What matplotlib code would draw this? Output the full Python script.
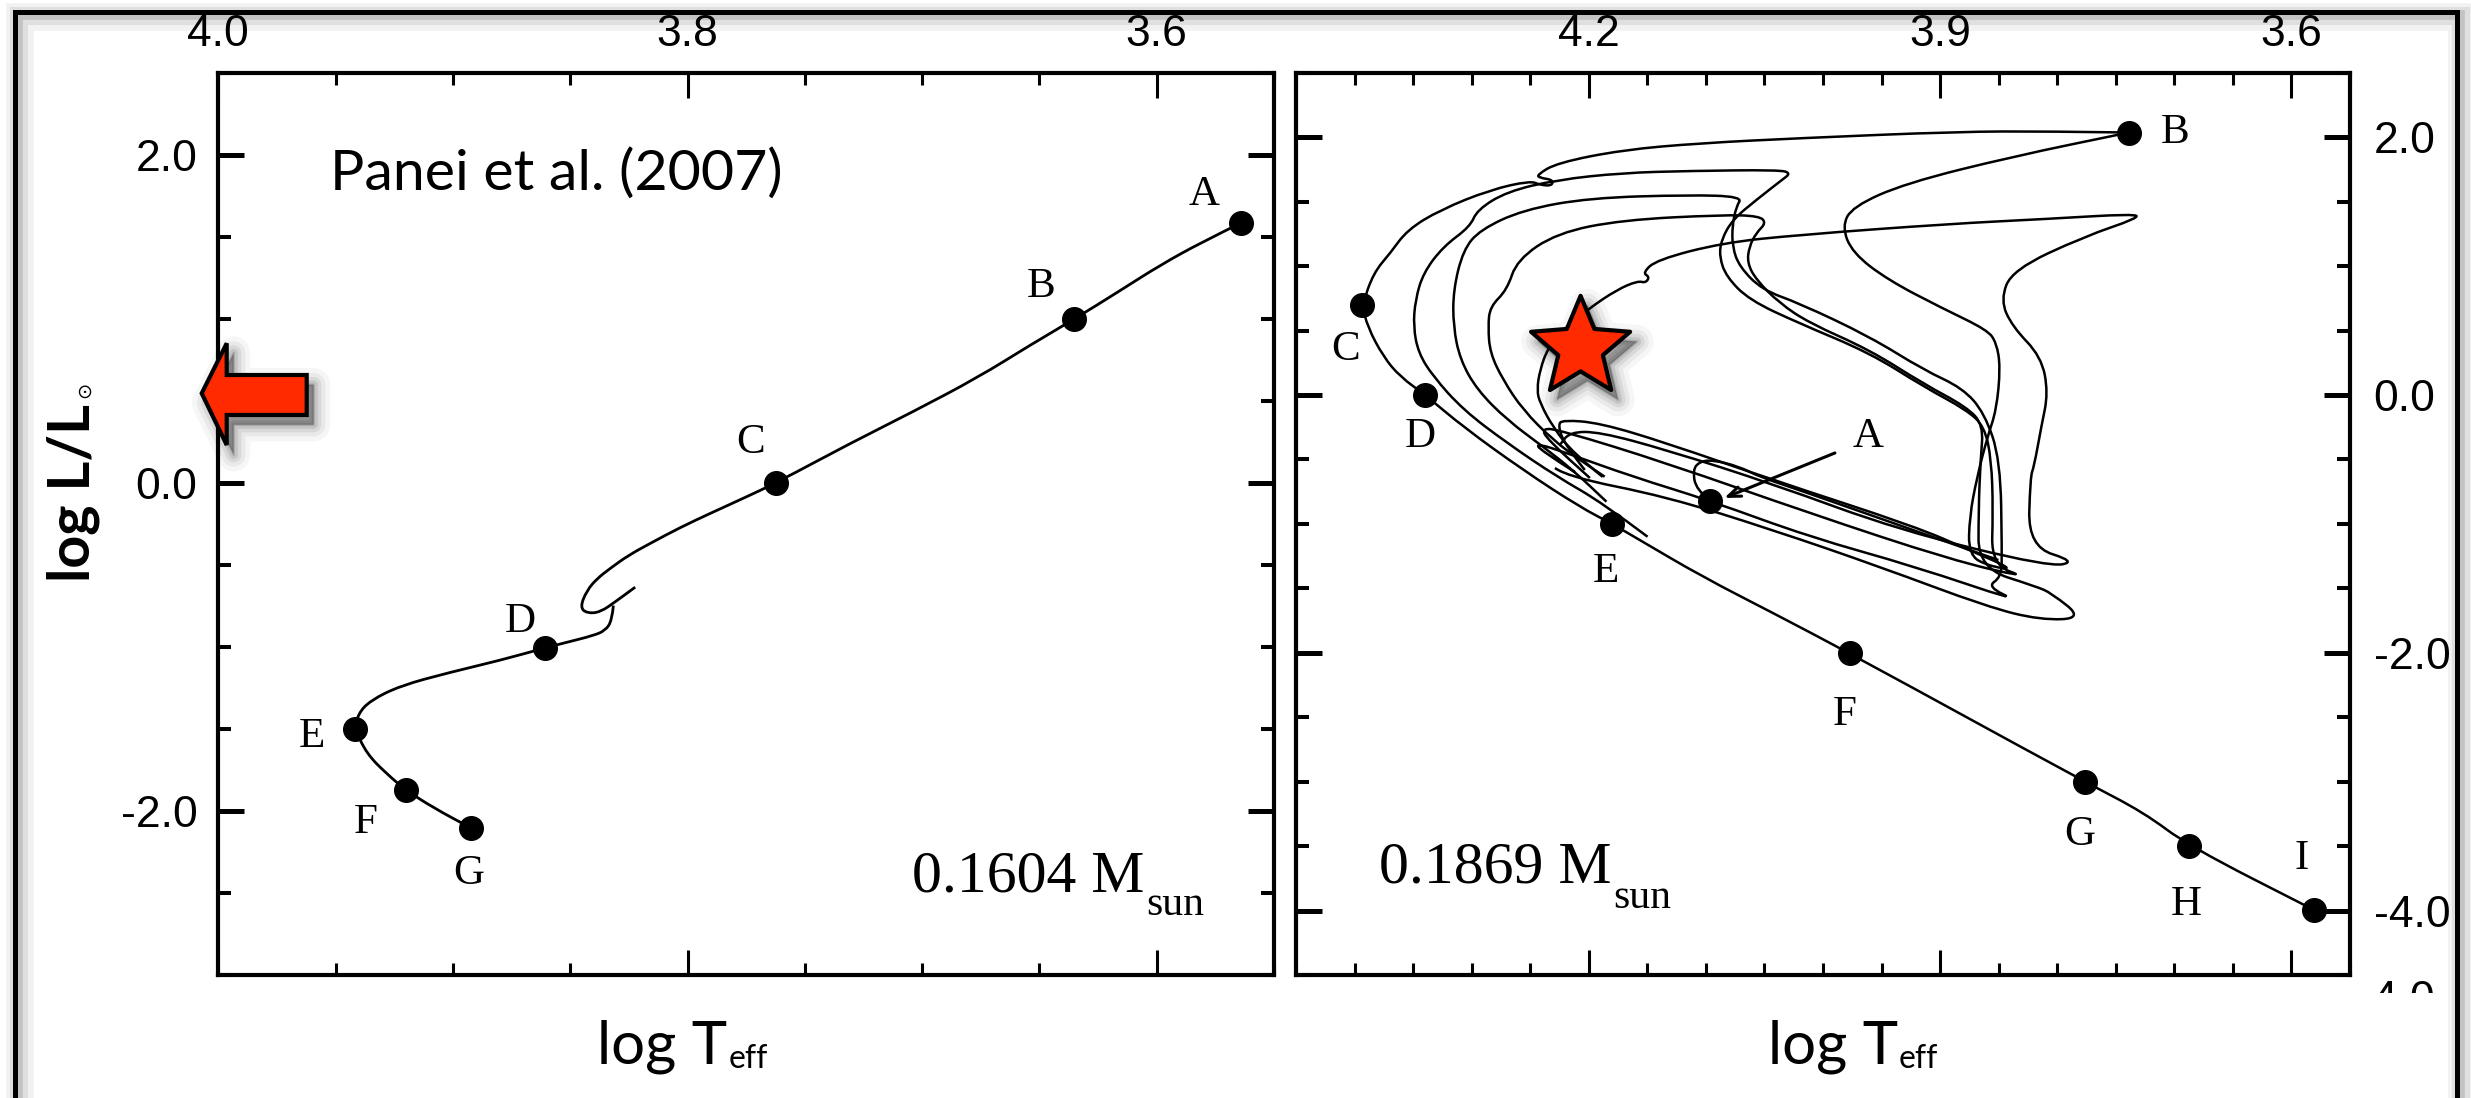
import numpy as np
import matplotlib
matplotlib.use("Agg")
import matplotlib.pyplot as plt
import matplotlib.patheffects as pe
from matplotlib.ticker import MultipleLocator, FormatStrFormatter
from matplotlib.path import Path
from matplotlib.patches import Polygon, Rectangle, PathPatch
from matplotlib.transforms import Bbox

plt.rcParams['font.family'] = 'Liberation Sans'
plt.rcParams['axes.unicode_minus'] = False

# ---------------- left panel: 0.1604 Msun (Panei et al. 2007) ----------------
left_up_t = [3.5639, 3.5805, 3.5984, 3.6159, 3.6351, 3.6539, 3.6760, 3.7042, 3.7306, 3.7622,
             3.7754, 3.7903, 3.8031, 3.8159, 3.8253, 3.8330, 3.8385, 3.8429, 3.8458, 3.8429,
             3.8372, 3.8301, 3.8223]
left_up_l = [1.585, 1.469, 1.328, 1.169, 0.998, 0.840, 0.644, 0.431, 0.241, 0.000,
             -0.089, -0.186, -0.272, -0.369, -0.443, -0.522, -0.583, -0.656, -0.758, -0.795,
             -0.789, -0.718, -0.636]
left_down_t = [3.8316, 3.8322, 3.8351, 3.8402, 3.8514, 3.8607, 3.8799, 3.9012, 3.9225,
               3.9353, 3.9404, 3.9417, 3.9367, 3.9282, 3.9201, 3.9084, 3.8924]
left_down_l = [-0.748, -0.840, -0.901, -0.931, -0.972, -1.006, -1.082, -1.155, -1.237,
               -1.328, -1.408, -1.501, -1.652, -1.774, -1.872, -1.980, -2.103]

left_pts = ['A', 'B', 'C', 'D', 'E', 'F', 'G']
left_pts_t = [3.5639, 3.6351, 3.7622, 3.8607, 3.9417, 3.9201, 3.8924]
left_pts_l = [1.585, 0.998, 0.000, -1.006, -1.501, -1.872, -2.103]
left_lab_t = [3.5797, 3.6492, 3.7733, 3.8713, 3.9602, 3.9371, 3.8934]
left_lab_l = [1.693, 1.135, 0.181, -0.911, -1.609, -2.133, -2.446]

# ---------------- right panel: 0.1869 Msun ----------------
cool_t = [3.7387, 3.8077, 3.8843, 4.0204, 4.1055, 4.1711, 4.2272, 4.2443, 4.2417, 4.2306,
          4.2315, 4.2417, 4.2502, 4.2843, 4.3268, 4.3549, 4.3694, 4.3838, 4.3934, 4.3889,
          4.3753, 4.3609, 4.3396, 4.3072, 4.2562, 4.2077, 4.1798, 4.1566, 4.1030, 4.0426,
          3.9770, 3.7762, 3.7260, 3.6877, 3.5804]
cool_l = [2.036, 2.045, 2.043, 1.992, 1.953, 1.901, 1.800, 1.707, 1.684, 1.669,
          1.622, 1.630, 1.661, 1.591, 1.436, 1.281, 1.102, 0.947, 0.698, 0.528,
          0.295, 0.140, 0.000, -0.248, -0.582, -0.869, -1.001, -1.125, -1.410, -1.692,
          -2.005, -3.003, -3.239, -3.500, -3.997]

rise_t = [4.2034, 4.2204, 4.2264, 4.2221, 4.1906, 4.1336, 4.0426, 3.9209, 3.8752, 3.8360,
          3.8587, 3.8757, 3.8749, 3.8684, 3.8596, 3.8519, 3.8485, 3.8519, 3.8596, 3.8987,
          3.9447, 3.9748, 3.9838, 3.9748, 3.9294, 3.8383, 3.7387]
rise_l = [-0.582, -0.388, -0.233, -0.194, -0.217, -0.373, -0.660, -1.022, -1.203, -1.358,
          -1.327, -1.242, -0.944, -0.634, -0.326, -0.116, 0.217, 0.404, 0.504, 0.675,
          0.893, 1.102, 1.306, 1.461, 1.643, 1.849, 2.036]

loop2_t = [4.1498, 4.1881, 4.2272, 4.2698, 4.3072, 4.3328, 4.3455, 4.3498, 4.3481, 4.3413,
           4.3243, 4.3013, 4.2953, 4.2698, 4.2272, 4.1711, 4.1140, 4.0374, 4.0275, 4.0349,
           4.0570, 4.0774, 4.0868, 4.0885, 4.0826, 4.0630, 4.0204, 3.9600, 3.9140, 3.8774,
           3.8621, 3.8562, 3.8548, 3.8562, 3.8247, 3.8902, 4.0119, 4.1336, 4.2247, 4.2403,
           4.2349, 4.1991]
loop2_l = [-1.100, -0.838, -0.634, -0.373, -0.116, 0.142, 0.326, 0.530, 0.737, 0.947,
           1.151, 1.306, 1.436, 1.578, 1.669, 1.723, 1.738, 1.746, 1.721, 1.669,
           1.513, 1.358, 1.203, 1.073, 0.918, 0.737, 0.556, 0.326, 0.064, -0.116,
           -0.246, -0.504, -0.893, -1.319, -1.420, -1.281, -0.916, -0.528, -0.272, -0.258,
           -0.349, -0.644]

loop3_t = [4.2119, 4.2417, 4.2445, 4.2190, 4.1626, 4.0964, 4.0119, 3.9209, 3.8326, 3.8599,
           3.8477, 3.8472, 3.8485, 3.8621, 3.8809, 3.9140, 3.9600, 4.0204, 4.0519, 4.0715,
           4.0774, 4.0774, 4.0740, 4.0689, 4.1140, 4.1991, 4.2562, 4.2928, 4.3072, 4.3157,
           4.3157, 4.3098, 4.2953, 4.2698, 4.2391, 4.2136, 4.1849]
loop3_l = [-0.598, -0.427, -0.375, -0.450, -0.634, -0.820, -1.100, -1.333, -1.604, -1.488,
           -1.412, -1.226, -0.504, -0.140, 0.054, 0.194, 0.452, 0.712, 0.815, 0.996,
           1.151, 1.319, 1.461, 1.539, 1.552, 1.529, 1.436, 1.281, 1.125, 0.815,
           0.530, 0.272, 0.039, -0.194, -0.401, -0.582, -0.828]

loop4_t = [4.2289, 4.2187, 4.1336, 4.0426, 3.9515, 3.8599, 3.8145, 3.7779, 3.8051, 3.8174,
           3.8672, 3.8672, 3.8655, 3.8630, 3.8774, 3.9140, 3.9600, 4.0119, 4.0374, 4.0570,
           4.0647, 4.0630, 4.0570, 4.0485, 4.0545, 4.0860, 4.1711, 4.2272, 4.2613, 4.2698,
           4.2843, 4.2860, 4.2843, 4.2732, 4.2562, 4.2306, 4.2077, 4.1864]
loop4_l = [-0.567, -0.634, -0.789, -1.048, -1.333, -1.643, -1.746, -1.733, -1.537, -1.488,
           -1.343, -0.893, -0.504, -0.233, -0.093, 0.085, 0.349, 0.559, 0.714, 0.893,
           1.024, 1.151, 1.257, 1.335, 1.389, 1.397, 1.358, 1.257, 1.048, 0.815,
           0.685, 0.530, 0.326, 0.116, -0.116, -0.349, -0.504, -0.634]

loop5_t = [4.1881, 4.2136, 4.2306, 4.2417, 4.2443, 4.2417, 4.2349, 4.2204, 4.1991, 4.1762,
           4.1583, 4.1515, 4.1481, 4.1540, 4.1421, 4.0860, 4.0204, 3.8928, 3.8077, 3.7347,
           3.7302, 3.7770, 3.8383, 3.8485, 3.8383, 3.8136, 3.8077, 3.8136, 3.8198, 3.8230,
           3.8247, 3.7833, 3.8077, 3.9353, 4.0426, 4.1336, 4.1906, 4.2162, 4.2247]
loop5_l = [-0.636, -0.450, -0.248, -0.062, 0.039, 0.194, 0.365, 0.520, 0.675, 0.815,
           0.885, 0.869, 0.916, 0.947, 1.048, 1.180, 1.242, 1.327, 1.366, 1.405,
           1.374, 1.229, 0.970, 0.737, 0.530, 0.297, 0.016, -0.246, -0.556, -0.634,
           -1.177, -1.294, -1.333, -1.048, -0.691, -0.427, -0.287, -0.287, -0.388]

aloop_t = [4.0964, 4.1083, 4.1112, 4.1055, 4.0942, 4.0715, 4.0545, 4.0204, 3.9353, 3.8502]
aloop_l = [-0.820, -0.737, -0.582, -0.518, -0.504, -0.556, -0.634, -0.737, -1.009, -1.281]

right_pts = ['A', 'B', 'C', 'D', 'E', 'F', 'G', 'H', 'I']
right_pts_t = [4.0964, 3.7387, 4.3934, 4.3396, 4.1798, 3.9770, 3.7762, 3.6877, 3.5804]
right_pts_l = [-0.820, 2.036, 0.698, 0.000, -1.001, -2.005, -3.003, -3.500, -3.997]
right_lab_t = [3.9618, 3.6997, 4.4077, 4.3438, 4.1852, 3.9813, 3.7804, 3.6896, 3.5915]
right_lab_l = [-0.401, 1.953, 0.272, -0.401, -1.449, -2.561, -3.492, -4.036, -3.680]
arrow_a_from = (3.9898, -0.450)
arrow_a_to = (4.0843, -0.799)

star_t, star_l = 4.207, 0.365

RED = '#ff2a00'
W, H = 2471, 1098
fig = plt.figure(figsize=(W / 100, H / 100), dpi=100)


def fx(px):
    return px / W


def fy(py):
    return 1 - py / H


ax1 = fig.add_axes([fx(218.3), fy(975), (1274 - 218.3) / W, (975 - 72.7) / H])
ax2 = fig.add_axes([fx(1296), fy(975), (2350 - 1296) / W, (975 - 72.7) / H])
ax1.set_xlim(4.0, 3.55)
ax1.set_ylim(-3.0, 2.5)
ax2.set_xlim(4.45, 3.55)
ax2.set_ylim(-4.5, 2.5)


def style(ax, xmaj, side):
    for s in ax.spines.values():
        s.set_linewidth(3.0)
    ax.xaxis.set_major_locator(MultipleLocator(xmaj))
    ax.xaxis.set_minor_locator(MultipleLocator(0.05))
    ax.yaxis.set_major_locator(MultipleLocator(2.0))
    ax.yaxis.set_minor_locator(MultipleLocator(0.5))
    ax.xaxis.set_major_formatter(FormatStrFormatter('%.1f'))
    ax.yaxis.set_major_formatter(FormatStrFormatter('%.1f'))
    ax.tick_params(axis='x', which='both', direction='in', top=True, bottom=True,
                   labeltop=True, labelbottom=False, pad=13, labelsize=32)
    ax.tick_params(axis='x', which='major', length=18, width=2.2)
    ax.tick_params(axis='x', which='minor', length=8.5, width=2.2)
    ax.tick_params(axis='y', which='both', direction='in', left=True, right=True,
                   labelleft=(side == 'left'), labelright=(side == 'right'),
                   pad=15 if side == 'left' else 17, labelsize=32)
    ax.tick_params(axis='y', which='major', length=19, width=3.6)
    ax.tick_params(axis='y', which='minor', length=9.5, width=2.9)


style(ax1, 0.2, 'left')
style(ax2, 0.3, 'right')


def track(ax, t, l, lw):
    # smooth rendering of the read-off track points (quadratic pieces between midpoints)
    pts = np.column_stack([t, l])
    verts, codes = [pts[0]], [Path.MOVETO]
    for i in range(1, len(pts) - 1):
        verts += [pts[i], (pts[i] + pts[i + 1]) / 2]
        codes += [Path.CURVE3, Path.CURVE3]
    verts.append(pts[-1])
    codes.append(Path.LINETO)
    ax.add_patch(PathPatch(Path(verts, codes), fill=False, edgecolor='k', lw=lw,
                           joinstyle='round', capstyle='butt'))


track(ax1, left_up_t, left_up_l, 2.0)
track(ax1, left_down_t, left_down_l, 2.0)
ax1.plot(left_pts_t, left_pts_l, 'o', color='k', ms=17, zorder=5)
for name, t, l in zip(left_pts, left_lab_t, left_lab_l):
    ax1.text(t, l, name, family='Liberation Serif', fontsize=31, ha='center', va='baseline')

for tt, ll in [(cool_t, cool_l), (rise_t, rise_l), (loop2_t, loop2_l), (loop3_t, loop3_l),
               (loop4_t, loop4_l), (loop5_t, loop5_l), (aloop_t, aloop_l)]:
    track(ax2, tt, ll, 1.8)
ax2.plot(right_pts_t, right_pts_l, 'o', color='k', ms=17, zorder=5, clip_on=False)
for name, t, l in zip(right_pts, right_lab_t, right_lab_l):
    ax2.text(t, l, name, family='Liberation Serif', fontsize=31, ha='center', va='baseline')
ax2.annotate('', xy=arrow_a_to, xytext=arrow_a_from,
             arrowprops=dict(arrowstyle='->,head_length=0.9,head_width=0.35',
                             lw=2.2, color='k', shrinkA=0, shrinkB=0))

# red star with soft shadow
sv = []
for k in range(10):
    ang = np.pi / 2 + k * np.pi / 5
    rad = 1.0 if k % 2 == 0 else 0.45
    sv.append((rad * np.cos(ang), rad * np.sin(ang)))
star_path = Path(sv + [sv[0]], [Path.MOVETO] + [Path.LINETO] * 9 + [Path.CLOSEPOLY])
shadow = [pe.SimplePatchShadow(offset=(5, -7), shadow_rgbFace='black', alpha=a,
                               linewidth=w, foreground='black', joinstyle='round')
          for w, a in [(24, 0.035), (17, 0.05), (11, 0.07), (6, 0.09), (2, 0.12)]] + [pe.Normal()]
ax2.plot([star_t], [star_l], marker=star_path, ms=75, mfc=RED, mec='k', mew=3,
         ls='none', zorder=10, path_effects=shadow)

# panel texts
t_ref = ax1.text(0.1058, 0.870, 'Panei et al. (2007)', transform=ax1.transAxes,
                 family='Lato', fontsize=44, ha='left', va='baseline')
ax1.text(0.877, 0.092, '0.1604 M', transform=ax1.transAxes, family='Liberation Serif',
         fontsize=43, ha='right', va='baseline')
ax1.text(0.879, 0.0665, 'sun', transform=ax1.transAxes, family='Liberation Serif',
         fontsize=30, ha='left', va='baseline')
ax2.text(0.2998, 0.102, '0.1869 M', transform=ax2.transAxes, family='Liberation Serif',
         fontsize=43, ha='right', va='baseline')
ax2.text(0.3008, 0.0743, 'sun', transform=ax2.transAxes, family='Liberation Serif',
         fontsize=30, ha='left', va='baseline')

r = fig.canvas.get_renderer()
bb = t_ref.get_window_extent(r)
t_ref.set_fontsize(t_ref.get_fontsize() * 453 / bb.width)

# axis labels
for x0 in (597, 1768):
    t = fig.text(fx(x0), fy(1064), 'log T', family='Lato', fontsize=38,
                 ha='left', va='baseline')
    bb = t.get_window_extent(r)
    t.set_fontsize(38 * 130 / bb.width)
    bb = t.get_window_extent(r)
    fig.text(fx(bb.x1 + 1), fy(1068), 'eff', family='Lato', fontsize=23,
             ha='left', va='baseline')

ylab = fig.text(fx(90), fy(582), 'log L/L', family='Lato', fontweight='bold', fontsize=40,
                rotation=90, rotation_mode='anchor', ha='left', va='baseline')
bb = ylab.get_window_extent(r)
ylab.set_fontsize(40 * 178 / bb.height)
bb = ylab.get_window_extent(r)
fig.text(fx(90), (bb.y1 + 6) / H, '\u2299', family='DejaVu Sans', fontsize=14,
         rotation=90, rotation_mode='anchor', ha='left', va='baseline')

# clipped stray tick label below right panel
ct = fig.text(fx(2435), fy(1012), '-4.0', fontsize=32, ha='right', va='baseline')
ct.set_clip_box(Bbox.from_extents(2300, H - 993, 2460, H - 975))
ct.set_clip_on(True)

# red arrow pointing at the left axis
arrow_px = [(201.7, 393.3), (226.7, 343.3), (226.7, 375), (306.7, 375),
            (306.7, 415), (226.7, 415), (226.7, 445)]
arrow = Polygon([(fx(x), fy(y)) for x, y in arrow_px], closed=True, transform=fig.transFigure,
                facecolor=RED, edgecolor='k', lw=3, joinstyle='miter', zorder=20,
                path_effects=shadow)
fig.add_artist(arrow)

# slide frame with shadow
for off, lw, a in [(5, 20, 0.05), (4, 13, 0.08), (3, 7, 0.12)]:
    fig.add_artist(Rectangle((fx(14.5 + off), -0.1), (2457 - 14.5) / W, fy(12 + off) + 0.1,
                             transform=fig.transFigure, fill=False, edgecolor=(0, 0, 0, a),
                             lw=lw, zorder=0))
fig.add_artist(Rectangle((fx(14.5), -0.1), (2457 - 14.5) / W, fy(12) + 0.1,
                         transform=fig.transFigure, fill=False, edgecolor='k', lw=3.6, zorder=30))

fig.savefig('out.png', dpi=100)
